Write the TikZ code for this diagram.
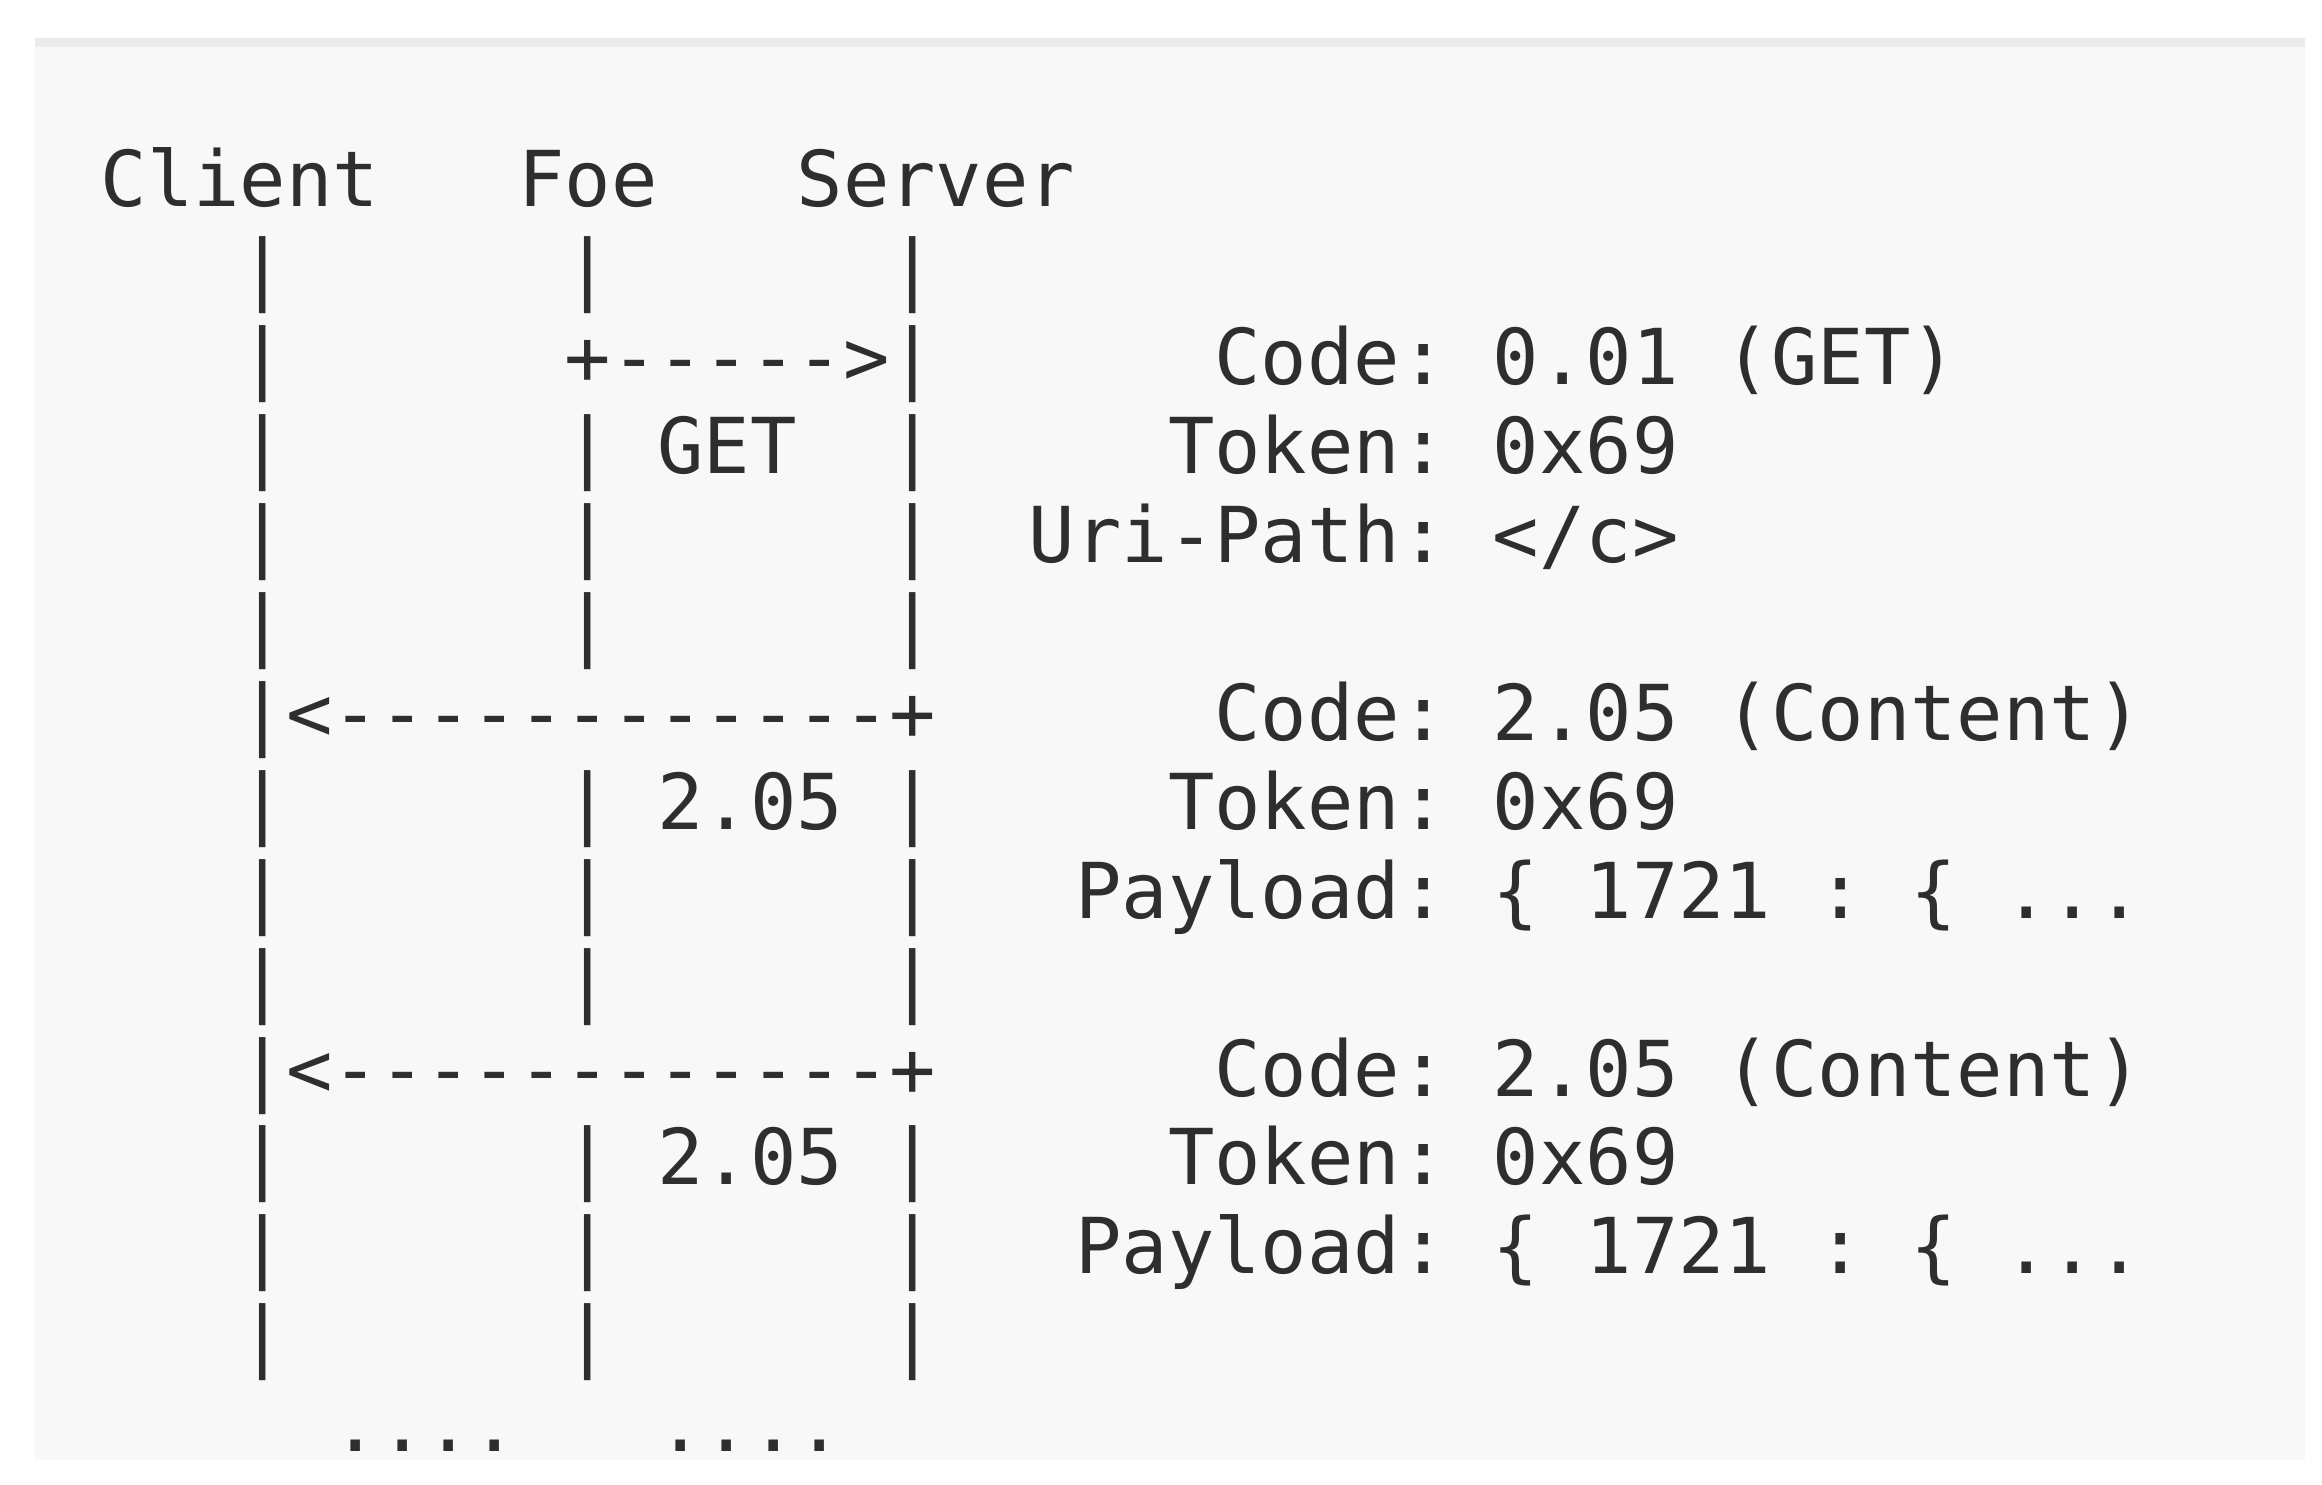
\documentclass[tikz,border=0pt]{standalone}
\usepackage{fontspec}
\setmonofont{DejaVu Sans Mono}
\definecolor{ink}{HTML}{2E2E2E}
\definecolor{panel}{HTML}{F8F8F8}
\definecolor{band}{HTML}{EBEBEB}
\begin{document}
\begin{tikzpicture}[x=0.25pt,y=-0.25pt,
  row/.style={anchor=base west, inner sep=0pt, outer sep=0pt, text=ink,
    font=\ttfamily\fontsize{19.27pt}{22pt}\selectfont}]
\useasboundingbox (0,0) rectangle (2322,1485);
\fill[white] (0,0) rectangle (2322,1485);
\fill[panel] (35,38) rectangle (2305,1460);
\fill[band] (35,38) rectangle (2305,47);
\node[row] (r0)  at (100.7,207.0)  {Client~~~Foe~~~Server};
\node[row] (r1)  at (100.7,295.9)  {~~~|~~~~~~|~~~~~~|};
\node[row] (r2)  at (100.7,384.8)  {~~~|~~~~~~+----->|~~~~~~Code:~0.01~(GET)};
\node[row] (r3)  at (100.7,473.7)  {~~~|~~~~~~|~GET~~|~~~~~Token:~0x69};
\node[row] (r4)  at (100.7,562.6)  {~~~|~~~~~~|~~~~~~|~~Uri-Path:~</c>};
\node[row] (r5)  at (100.7,651.5)  {~~~|~~~~~~|~~~~~~|};
\node[row] (r6)  at (100.7,740.4)  {~~~|<------------+~~~~~~Code:~2.05~(Content)};
\node[row] (r7)  at (100.7,829.3)  {~~~|~~~~~~|~2.05~|~~~~~Token:~0x69};
\node[row] (r8)  at (100.7,918.2)  {~~~|~~~~~~|~~~~~~|~~~Payload:~\{~1721~:~\{~...};
\node[row] (r9)  at (100.7,1007.1) {~~~|~~~~~~|~~~~~~|};
\node[row] (r10) at (100.7,1096.0) {~~~|<------------+~~~~~~Code:~2.05~(Content)};
\node[row] (r11) at (100.7,1184.9) {~~~|~~~~~~|~2.05~|~~~~~Token:~0x69};
\node[row] (r12) at (100.7,1273.8) {~~~|~~~~~~|~~~~~~|~~~Payload:~\{~1721~:~\{~...};
\node[row] (r13) at (100.7,1362.7) {~~~|~~~~~~|~~~~~~|};
\node[row] (r14) at (100.7,1451.6) {~~~~~....~~~....};
\end{tikzpicture}
\end{document}
